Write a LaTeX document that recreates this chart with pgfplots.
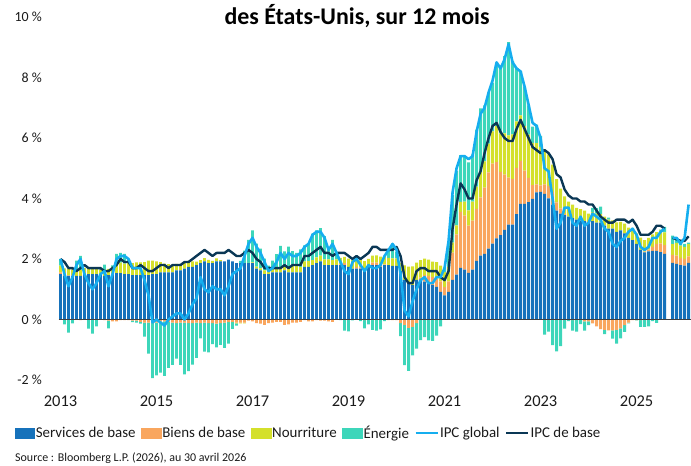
\documentclass[border=0pt]{standalone}
\usepackage{pgfplots}
\pgfplotsset{compat=1.18}
\usepackage{pgfplotstable}
\usepackage{fontspec}
\setmainfont{Carlito}

\definecolor{svc}{HTML}{1672BB}
\definecolor{goods}{HTML}{F9A65E}
\definecolor{food}{HTML}{D4E02B}
\definecolor{energy}{HTML}{3DD6BA}
\definecolor{hcpi}{HTML}{15AEEF}
\definecolor{ccpi}{HTML}{0A3755}
\definecolor{txt}{HTML}{1A1A1A}

% i = months since Feb 2013; S services, G goods, F food, E energy (p = positive part, n = negative part); H headline CPI, C core CPI
\pgfplotstableread{
i S Gp Gn Fp Fn Ep En H C
0 1.50 0.06 0 0.22 0 0.22 0 2.0 2.0
1 1.44 0.04 0 0.21 0 0 -0.16 1.5 1.9
2 1.44 0.02 0 0.21 0 0 -0.43 1.1 1.7
3 1.44 0.02 0 0.20 0 0 -0.13 1.4 1.7
4 1.44 0 0 0.20 0 0.31 0 1.8 1.6
5 1.44 0 -0.02 0.20 0 0.46 0 2.0 1.7
6 1.50 0 0 0.20 0 0 0 1.5 1.8
7 1.50 0 0 0.20 0 0 -0.30 1.2 1.7
8 1.50 0 0 0.18 0 0 -0.47 1.0 1.7
9 1.50 0 0 0.17 0 0 -0.23 1.2 1.7
10 1.50 0 0 0.15 0 0.05 0 1.5 1.7
11 1.44 0 -0.02 0.20 0 0.17 0 1.6 1.6
12 1.47 0 -0.04 0.20 0 0 -0.25 1.1 1.6
13 1.50 0 -0.06 0.24 0 0.05 0 1.5 1.7
14 1.53 0 -0.06 0.32 0 0.32 0 2.0 1.8
15 1.53 0 -0.02 0.35 0 0.32 0 2.1 2.0
16 1.50 0 -0.02 0.35 0 0.32 0 2.1 1.9
17 1.50 0 -0.02 0.36 0 0.13 0 2.0 1.9
18 1.47 0 -0.04 0.39 0 0 -0.05 1.7 1.7
19 1.47 0 -0.04 0.42 0 0 -0.06 1.7 1.7
20 1.47 0 -0.08 0.42 0 0 -0.06 1.7 1.8
21 1.47 0 -0.10 0.43 0 0 -0.47 1.3 1.7
22 1.47 0 -0.10 0.48 0 0 -1.03 0.8 1.6
23 1.50 0 -0.12 0.45 0 0 -1.82 -0.1 1.6
24 1.50 0 -0.10 0.42 0 0 -1.75 0.0 1.7
25 1.56 0 -0.06 0.34 0 0 -1.70 -0.1 1.8
26 1.56 0 -0.06 0.29 0 0 -1.80 -0.2 1.8
27 1.56 0 -0.08 0.27 0 0 -1.52 0.0 1.7
28 1.56 0 -0.10 0.25 0 0 -1.40 0.1 1.8
29 1.62 0 -0.12 0.22 0 0 -1.17 0.2 1.8
30 1.62 0 -0.10 0.22 0 0 -1.40 0.2 1.8
31 1.68 0 -0.10 0.22 0 0 -1.71 0.0 1.9
32 1.74 0 -0.12 0.20 0 0 -1.59 0.2 1.9
33 1.74 0 -0.12 0.18 0 0 -1.37 0.5 2.0
34 1.80 0 -0.10 0.11 0 0 -1.17 0.7 2.1
35 1.86 0 -0.12 0.10 0 0 -0.50 1.4 2.2
36 1.92 0 -0.10 0.11 0 0 -0.96 1.0 2.3
37 1.86 0 -0.12 0.11 0 0 -0.97 0.9 2.2
38 1.86 0 -0.12 0.08 0 0 -0.69 1.1 2.1
39 1.92 0 -0.14 0.10 0 0 -0.78 1.0 2.2
40 1.92 0 -0.12 0.04 0 0 -0.72 1.0 2.2
41 1.92 0 -0.10 0 0 0 -0.84 0.8 2.2
42 1.98 0 -0.08 0 -0.01 0 -0.71 1.1 2.3
43 1.92 0 -0.08 0 -0.01 0 -0.22 1.5 2.2
44 1.86 0 -0.10 0 -0.03 0 -0.07 1.6 2.1
45 1.86 0 -0.10 0 -0.03 0.08 0 1.7 2.1
46 1.86 0 -0.10 0 -0.03 0.42 0 2.1 2.2
47 1.86 0 -0.04 0.01 0 0.76 0 2.5 2.3
48 1.86 0 -0.06 0.03 0 1.06 0 2.7 2.2
49 1.68 0 -0.12 0.07 0 0.76 0 2.4 2.0
50 1.62 0 -0.14 0.07 0 0.65 0 2.2 1.9
51 1.50 0 -0.18 0.12 0 0.39 0 1.9 1.7
52 1.50 0 -0.12 0.12 0 0.16 0 1.6 1.7
53 1.56 0 -0.10 0.15 0 0.24 0 1.7 1.7
54 1.56 0 -0.08 0.15 0 0.45 0 1.9 1.7
55 1.56 0 -0.08 0.16 0 0.71 0 2.2 1.7
56 1.62 0 -0.18 0.18 0 0.45 0 2.0 1.8
57 1.56 0 -0.16 0.19 0 0.66 0 2.2 1.7
58 1.56 0 -0.10 0.22 0 0.48 0 2.1 1.8
59 1.56 0 -0.10 0.23 0 0.41 0 2.1 1.8
60 1.56 0 -0.08 0.18 0 0.58 0 2.2 1.8
61 1.74 0 -0.02 0.18 0 0.53 0 2.4 2.1
62 1.74 0 -0.06 0.19 0 0.59 0 2.5 2.1
63 1.80 0 -0.06 0.16 0 0.88 0 2.8 2.2
64 1.86 0 -0.02 0.19 0 0.90 0 2.9 2.3
65 1.92 0 -0.04 0.19 0 0.91 0 2.9 2.4
66 1.80 0 -0.04 0.19 0 0.77 0 2.7 2.2
67 1.80 0 -0.06 0.19 0 0.36 0 2.3 2.2
68 1.80 0 -0.08 0.16 0 0.67 0 2.5 2.1
69 1.80 0 0 0.19 0 0.23 0 2.2 2.2
70 1.80 0.02 0 0.22 0 0 -0.02 1.9 2.2
71 1.80 0.06 0 0.21 0 0 -0.37 1.6 2.2
72 1.74 0 0 0.27 0 0 -0.39 1.5 2.1
73 1.68 0 0 0.28 0 0 -0.03 1.9 2.0
74 1.68 0.06 0 0.24 0 0.13 0 2.0 2.1
75 1.68 0.04 0 0.27 0 0 -0.05 1.8 2.0
76 1.68 0 -0.02 0.25 0 0 -0.27 1.6 2.1
77 1.74 0.02 0 0.24 0 0 -0.16 1.8 2.2
78 1.80 0.08 0 0.23 0 0 -0.34 1.7 2.4
79 1.80 0.08 0 0.24 0 0 -0.37 1.7 2.4
80 1.74 0.06 0 0.28 0 0 -0.33 1.8 2.3
81 1.80 0.02 0 0.27 0 0 -0.05 2.1 2.3
82 1.80 0 -0.02 0.24 0 0.27 0 2.3 2.3
83 1.77 0 -0.02 0.25 0 0.47 0 2.5 2.3
84 1.77 0 -0.02 0.25 0 0.21 0 2.3 2.4
85 1.60 0 -0.12 0.26 0 0 -0.43 1.5 2.1
86 1.31 0 -0.18 0.48 0 0 -1.33 0.3 1.4
87 1.20 0 -0.28 0.55 0 0 -1.42 0.1 1.2
88 1.14 0 -0.24 0.62 0 0 -0.95 0.6 1.2
89 1.31 0 -0.12 0.57 0 0 -0.84 1.0 1.6
90 1.31 0.08 0 0.57 0 0 -0.68 1.3 1.7
91 1.25 0.22 0 0.54 0 0 -0.58 1.4 1.7
92 1.20 0.24 0 0.54 0 0 -0.69 1.2 1.6
93 1.14 0.26 0 0.51 0 0 -0.71 1.2 1.6
94 1.08 0.28 0 0.54 0 0 -0.53 1.4 1.6
95 0.91 0.35 0 0.52 0 0 -0.23 1.4 1.4
96 0.80 0.27 0 0.50 0 0.15 0 1.7 1.3
97 0.91 0.35 0 0.48 0 0.83 0 2.6 1.6
98 1.31 0.90 0 0.33 0 1.58 0 4.2 3.0
99 1.48 1.33 0 0.30 0 1.80 0 5.0 3.8
100 1.71 1.85 0 0.33 0 1.54 0 5.4 4.5
101 1.65 1.78 0 0.47 0 1.50 0 5.4 4.3
102 1.54 1.56 0 0.51 0 1.58 0 5.3 4.0
103 1.65 1.62 0 0.63 0 1.56 0 5.4 4.0
104 1.94 1.72 0 0.73 0 1.89 0 6.2 4.6
105 2.11 1.93 0 0.84 0 2.10 0 6.8 4.9
106 2.17 2.19 0 0.87 0 1.85 0 7.0 5.5
107 2.34 2.52 0 0.95 0 1.70 0 7.5 6.0
108 2.51 2.64 0 1.07 0 1.61 0 7.9 6.4
109 2.68 2.52 0 1.19 0 2.08 0 8.5 6.5
110 2.79 2.09 0 1.27 0 2.24 0 8.3 6.2
111 2.96 1.83 0 1.36 0 2.56 0 8.6 6.0
112 3.14 1.55 0 1.40 0 3.08 0 9.1 5.9
113 3.14 1.51 0 1.47 0 2.43 0 8.5 5.9
114 3.48 1.53 0 1.54 0 1.76 0 8.3 6.3
115 3.82 1.42 0 1.51 0 1.47 0 8.2 6.6
116 3.82 1.10 0 1.47 0 1.30 0 7.7 6.3
117 3.88 0.80 0 1.43 0 0.97 0 7.1 6.0
118 3.99 0.45 0 1.40 0 0.54 0 6.5 5.7
119 4.20 0.27 0 1.36 0 0.61 0 6.4 5.6
120 4.22 0.21 0 1.28 0 0.36 0 6.0 5.5
121 4.15 0.32 0 1.15 0 0 -0.50 5.0 5.6
122 4.00 0.42 0 1.04 0 0 -0.40 4.9 5.5
123 3.80 0.42 0 0.90 0 0 -0.85 4.0 5.3
124 3.60 0.27 0 0.77 0 0 -1.05 3.0 4.8
125 3.50 0.17 0 0.66 0 0 -0.88 3.2 4.7
126 3.45 0.04 0 0.58 0 0 -0.30 3.7 4.3
127 3.40 0 0 0.50 0 0 -0.05 3.7 4.1
128 3.35 0 -0.02 0.45 0 0 -0.35 3.2 4.0
129 3.30 0 0 0.39 0 0 -0.40 3.1 4.0
130 3.25 0.04 0 0.36 0 0 -0.15 3.4 3.9
131 3.25 0 -0.06 0.35 0 0 -0.31 3.1 3.9
132 3.20 0 -0.06 0.30 0 0 -0.13 3.2 3.8
133 3.25 0 -0.13 0.30 0 0.14 0 3.5 3.8
134 3.20 0 -0.23 0.30 0 0.18 0 3.4 3.6
135 3.20 0 -0.32 0.28 0 0.25 0 3.3 3.4
136 3.10 0 -0.34 0.30 0 0 -0.14 3.0 3.3
137 3.00 0 -0.36 0.30 0 0.07 0 2.9 3.2
138 3.00 0 -0.36 0.28 0 0 -0.27 2.5 3.2
139 2.90 0 -0.34 0.31 0 0 -0.46 2.4 3.3
140 2.95 0 -0.29 0.28 0 0 -0.33 2.6 3.3
141 2.85 0 -0.19 0.32 0 0 -0.22 2.7 3.3
142 2.70 0 -0.10 0.34 0 0 -0.03 2.9 3.2
143 2.62 0 -0.02 0.34 0 0.07 0 3.0 3.3
144 2.50 0 -0.02 0.35 0 0 -0.01 2.8 3.1
145 2.30 0 -0.02 0.41 0 0 -0.22 2.4 2.8
146 2.22 0.02 0 0.38 0 0 -0.24 2.3 2.8
147 2.25 0.06 0 0.39 0 0 -0.23 2.4 2.8
148 2.27 0.13 0 0.41 0 0 -0.05 2.7 2.9
149 2.27 0.23 0 0.39 0 0 -0.11 2.7 3.1
150 2.23 0.29 0 0.44 0 0.01 0 2.9 3.1
151 2.17 0.29 0 0.42 0 0.18 0 3.0 3.0
152 0 0 0 0 0 0 0 nan nan
153 1.87 0.27 0 0.35 0 0.28 0 2.7 2.7
154 1.84 0.27 0 0.42 0 0.15 0 2.7 2.65
155 1.80 0.24 0 0.40 0 0.05 0 2.5 2.6
156 1.78 0.22 0 0.40 0 0.10 0 2.7 2.6
157 1.87 0.22 0 0.40 0 0.05 0 3.8 2.75
}\data

\pgfplotsset{
  base/.style={
    at={(58.5bp,86bp)}, anchor=south west, scale only axis,
    width=632.5bp, height=363bp,
    xmin=-0.5, xmax=157.6, ymin=-2, ymax=10,
    enlarge x limits=false, enlarge y limits=false,
    axis line style={draw=none}, tick style={draw=none},
  },
  barax/.style={base, ybar stacked, bar width=0.72, xtick=\empty, ytick=\empty},
}

\begin{document}
\begin{tikzpicture}
\useasboundingbox (0bp,0bp) rectangle (691bp,466bp);

% positive contributions
\begin{axis}[barax]
\addplot[fill=svc, draw=none] table[x=i,y=S]{\data};
\addplot[fill=goods, draw=none] table[x=i,y=Gp]{\data};
\addplot[fill=food, draw=none] table[x=i,y=Fp]{\data};
\addplot[fill=energy, draw=none] table[x=i,y=Ep]{\data};
\end{axis}

% negative contributions
\begin{axis}[barax]
\addplot[fill=goods, draw=none] table[x=i,y=Gn]{\data};
\addplot[fill=food, draw=none] table[x=i,y=Fn]{\data};
\addplot[fill=energy, draw=none] table[x=i,y=En]{\data};
\end{axis}

% lines, labels, legend
\begin{axis}[base,
  xtick={0,24,48,72,96,120,144},
  xticklabels={2013,2015,2017,2019,2021,2023,2025},
  ytick={-2,0,2,4,6,8,10},
  yticklabels={-2~\%,0~\%,2~\%,4~\%,6~\%,8~\%,10~\%},
  xticklabel style={font=\fontsize{16.5}{18}\selectfont, text=txt, anchor=north, inner sep=0pt, yshift=-16bp},
  yticklabel style={font=\fontsize{14}{16}\selectfont, text=txt, anchor=east, inner sep=0pt, xshift=-16.5bp},
  unbounded coords=jump,
  legend columns=6,
  legend cell align=left,
  legend style={at={(axis description cs:0,0)}, anchor=west, xshift=-43.5bp, yshift=-53bp,
    draw=none, fill=none, inner sep=0pt, font=\fontsize{15}{18}\selectfont, text=txt,
    nodes={inner sep=1.2bp},
    /tikz/every even column/.append style={column sep=4bp},
    /tikz/every odd column/.append style={column sep=0bp}},
]
\draw[black!75, line width=1.2bp] (axis cs:-0.5,0) -- (axis cs:157.6,0);
\addlegendimage{legend image code/.code={\fill[svc] (0bp,-5bp) rectangle (19bp,5bp);}}
\addlegendentry{Services de base}
\addlegendimage{legend image code/.code={\fill[goods] (0bp,-5bp) rectangle (20bp,5bp);}}
\addlegendentry{Biens de base}
\addlegendimage{legend image code/.code={\fill[food] (0bp,-5bp) rectangle (20bp,5bp);}}
\addlegendentry{Nourriture}
\addlegendimage{legend image code/.code={\fill[energy] (0bp,-5bp) rectangle (20bp,5bp);}}
\addlegendentry{Énergie}
\addlegendimage{legend image code/.code={\draw[hcpi, line width=2.6bp] (0bp,0bp) -- (22bp,0bp);}}
\addlegendentry{IPC global}
\addlegendimage{legend image code/.code={\draw[ccpi, line width=2.6bp] (0bp,0bp) -- (22bp,0bp);}}
\addlegendentry{IPC de base}
\addplot[ccpi, line width=2.4bp, line join=round, forget plot] table[x=i,y=C]{\data};
\addplot[hcpi, line width=2.6bp, line join=round, forget plot] table[x=i,y=H]{\data};
\end{axis}

\node[anchor=base, font=\bfseries\fontsize{24}{28}\selectfont, text=black] at (357bp,441bp) {des États-Unis, sur 12 mois};
\node[anchor=base west, font=\fontsize{12}{14}\selectfont, text=txt, inner sep=0pt] at (15bp,5bp) {Source : Bloomberg L.P. (2026), au 30 avril 2026};
\end{tikzpicture}
\end{document}
